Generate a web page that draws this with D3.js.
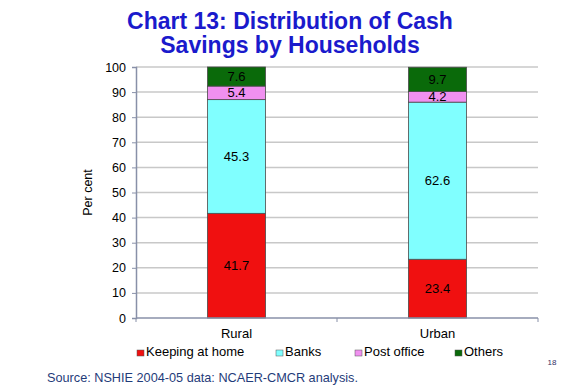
<!DOCTYPE html>
<html>
<head>
<meta charset="utf-8">
<script src="https://cdn.jsdelivr.net/npm/d3@7"></script>
<style>
  body { margin: 0; background: #fff; }
  svg { font-family: "Liberation Sans", Arial, sans-serif; }
</style>
</head>
<body>
<svg id="chart" width="576" height="387"></svg>
<script>
// data
const categories = ["Rural", "Urban"];
const seriesNames = ["Keeping at home", "Banks", "Post office", "Others"];
const keepingAtHome = [41.7, 23.4];
const banks = [45.3, 62.6];
const postOffice = [5.4, 4.2];
const others = [7.6, 9.7];
const yTicks = [0, 10, 20, 30, 40, 50, 60, 70, 80, 90, 100];

const colors = ["#f01010", "#80ffff", "#f090f0", "#0a6a0a"];

let svg = d3.select("#chart");

let margin = { left: 136, right: 38, top: 67, bottom: 69 };
let width = 576 - margin.left - margin.right;
let height = 387 - margin.top - margin.bottom;

// title
svg.append("text")
  .attr("x", 290).attr("y", 29)
  .attr("text-anchor", "middle")
  .attr("font-size", 23).attr("font-weight", "bold")
  .attr("fill", "#1a1acc")
  .text("Chart 13: Distribution of Cash");
svg.append("text")
  .attr("x", 290).attr("y", 53)
  .attr("text-anchor", "middle")
  .attr("font-size", 23).attr("font-weight", "bold")
  .attr("fill", "#1a1acc")
  .text("Savings by Households");

let g = svg.append("g").attr("transform", `translate(${margin.left},${margin.top})`);

let x = d3.scaleBand().domain(categories).range([0, width]);
let y = d3.scaleLinear().domain([0, 100]).range([height, 0]);

// gridlines
g.selectAll(".grid")
  .data(yTicks.filter(d => d > 0))
  .join("line")
  .attr("x1", 0).attr("x2", width)
  .attr("y1", d => y(d)).attr("y2", d => y(d))
  .attr("stroke", "#c8c8c8").attr("stroke-width", 1.5);

// stacked bars
let rows = categories.map((c, i) => ({
  cat: c,
  "Keeping at home": keepingAtHome[i],
  "Banks": banks[i],
  "Post office": postOffice[i],
  "Others": others[i]
}));
let stack = d3.stack().keys(seriesNames)(rows);
let barW = 58;

let layers = g.selectAll(".layer")
  .data(stack)
  .join("g")
  .attr("fill", (d, i) => colors[i]);

layers.selectAll("rect")
  .data(d => d)
  .join("rect")
  .attr("x", d => x(d.data.cat) + x.bandwidth() / 2 - barW / 2)
  .attr("y", d => y(d[1]))
  .attr("width", barW)
  .attr("height", d => y(d[0]) - y(d[1]))
  .attr("stroke", "#4a4a4a").attr("stroke-width", 0.8);

layers.selectAll("text")
  .data(d => d.map(v => ({ v: v, key: d.key })))
  .join("text")
  .attr("x", d => x(d.v.data.cat) + x.bandwidth() / 2)
  .attr("y", d => (y(d.v[0]) + y(d.v[1])) / 2 + 4.5)
  .attr("text-anchor", "middle")
  .attr("font-size", 13)
  .attr("fill", "#000")
  .text(d => d.v.data[d.key]);

// y axis
let yAxis = g.append("g")
  .call(d3.axisLeft(y).tickValues(yTicks).tickSize(4).tickPadding(6));
yAxis.select(".domain").attr("stroke", "#8890a8").attr("stroke-width", 1.5);
yAxis.selectAll(".tick line").attr("stroke", "#8890a8");
yAxis.selectAll(".tick text").attr("font-size", 12.5).attr("fill", "#000")
  .attr("font-family", "Liberation Sans, Arial, sans-serif");

// x axis
let xAxis = g.append("g")
  .attr("transform", `translate(0,${height})`);
xAxis.append("line")
  .attr("x1", 0).attr("x2", width)
  .attr("stroke", "#8890a8").attr("stroke-width", 1.5);
xAxis.selectAll(".sep")
  .data([0, width / 2, width])
  .join("line")
  .attr("x1", d => d).attr("x2", d => d)
  .attr("y1", 0).attr("y2", 4)
  .attr("stroke", "#8890a8");
xAxis.selectAll(".cat")
  .data(categories)
  .join("text")
  .attr("x", d => x(d) + x.bandwidth() / 2)
  .attr("y", 20)
  .attr("text-anchor", "middle")
  .attr("font-size", 13)
  .text(d => d);

// y label
svg.append("text")
  .attr("transform", `translate(92,${margin.top + height / 2}) rotate(-90)`)
  .attr("text-anchor", "middle")
  .attr("font-size", 12.5)
  .text("Per cent");

// legend
let legendX = [137, 276, 355, 455];
let legend = svg.selectAll(".legend")
  .data(seriesNames)
  .join("g")
  .attr("transform", (d, i) => `translate(${legendX[i]},356)`);
legend.append("rect")
  .attr("x", 0).attr("y", -6)
  .attr("width", 7).attr("height", 6)
  .attr("fill", (d, i) => colors[i])
  .attr("stroke", "#555").attr("stroke-width", 0.5);
legend.append("text")
  .attr("x", 9).attr("y", 0)
  .attr("font-size", 13)
  .text(d => d);

// page number
svg.append("text")
  .attr("x", 552).attr("y", 365)
  .attr("text-anchor", "middle")
  .attr("font-size", 8)
  .attr("fill", "#333366")
  .text("18");

// source
svg.append("text")
  .attr("x", 47).attr("y", 382)
  .attr("font-size", 12.7)
  .attr("fill", "#1f3c7a")
  .text("Source: NSHIE 2004-05 data: NCAER-CMCR analysis.");
</script>
</body>
</html>
